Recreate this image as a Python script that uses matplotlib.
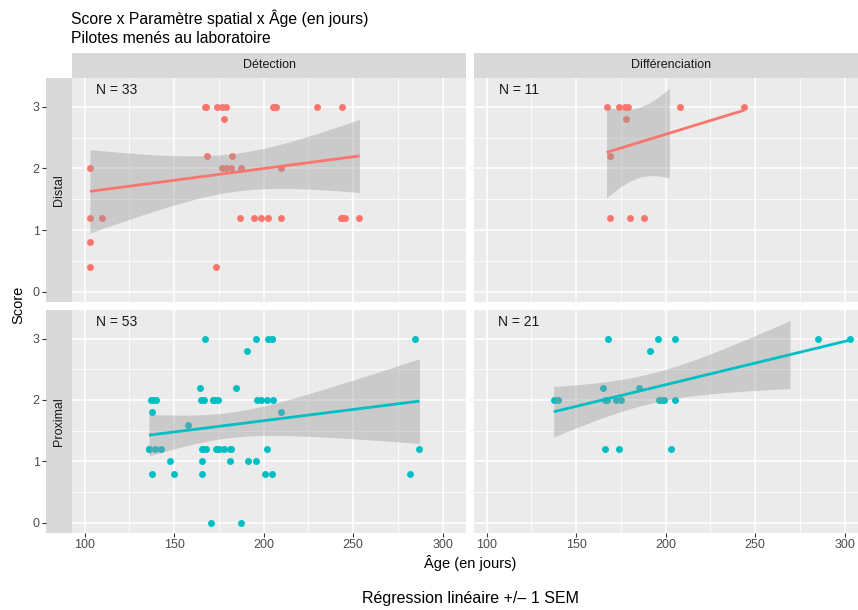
import matplotlib.pyplot as plt
import numpy as np
from math import lgamma, pi, sqrt, exp

plt.rcParams['font.family'] = ['Liberation Sans', 'DejaVu Sans']

RED = '#F8766D'
TEAL = '#00BFC4'

# Distal - Détection
age_dist_det = [167, 168, 174, 177, 179, 205, 206, 207, 230, 244,
                178,
                168.5, 182.5,
                103, 176.5, 179, 182, 187.5, 209.5,
                103, 110, 187, 194.5, 198.5, 202.5, 209.5, 243, 244, 245.5, 253.5,
                103,
                103, 173.5]
score_dist_det = [3, 3, 3, 3, 3, 3, 3, 3, 3, 3,
                  2.8,
                  2.2, 2.2,
                  2, 2, 2, 2, 2, 2,
                  1.2, 1.2, 1.2, 1.2, 1.2, 1.2, 1.2, 1.2, 1.2, 1.2, 1.2,
                  0.8,
                  0.4, 0.4]

# Distal - Différenciation
age_dist_dif = [167, 174, 177.5, 179, 208, 244,
                178,
                169,
                169, 180, 188]
score_dist_dif = [3, 3, 3, 3, 3, 3,
                  2.8,
                  2.2,
                  1.2, 1.2, 1.2]

# Proximal - Détection
age_prox_det = [167.5, 195.5, 202.5, 204.5, 204.5, 284.5,
                190.5,
                164.5, 184.5,
                137, 138.5, 140, 165, 166.5, 172, 172, 173, 174.5, 196.5, 198.5, 202, 205,
                137.5, 209.5,
                157.5,
                136, 136, 139.5, 142.5, 165.5, 166, 168, 173.5, 174, 175, 178, 181, 182, 202, 287,
                147.5, 165.5, 181, 191.5, 195.5,
                137.5, 150, 165.5, 200.5, 204.5, 281.5,
                170.5, 187.5]
score_prox_det = [3, 3, 3, 3, 3, 3,
                  2.8,
                  2.2, 2.2,
                  2, 2, 2, 2, 2, 2, 2, 2, 2, 2, 2, 2, 2,
                  1.8, 1.8,
                  1.6,
                  1.2, 1.2, 1.2, 1.2, 1.2, 1.2, 1.2, 1.2, 1.2, 1.2, 1.2, 1.2, 1.2, 1.2, 1.2,
                  1, 1, 1, 1, 1,
                  0.8, 0.8, 0.8, 0.8, 0.8, 0.8,
                  0, 0]

# Proximal - Différenciation
age_prox_dif = [168, 196, 205, 285, 303,
                191,
                165, 185,
                137.5, 140, 166, 167, 172.5, 175, 196.5, 198, 199, 205,
                166, 174, 203]
score_prox_dif = [3, 3, 3, 3, 3,
                  2.8,
                  2.2, 2.2,
                  2, 2, 2, 2, 2, 2, 2, 2, 2, 2,
                  1.2, 1.2, 1.2]

rows = ['Distal', 'Proximal']
cols = ['Détection', 'Différenciation']
panels = {
    ('Distal', 'Détection'): (age_dist_det, score_dist_det),
    ('Distal', 'Différenciation'): (age_dist_dif, score_dist_dif),
    ('Proximal', 'Détection'): (age_prox_det, score_prox_det),
    ('Proximal', 'Différenciation'): (age_prox_dif, score_prox_dif),
}
row_colors = {'Distal': RED, 'Proximal': TEAL}
score_max = 3.3
x_breaks = [100, 150, 200, 250, 300]


def t_quantile(p, df):
    # quantile de Student par intégration numérique (pas de scipy)
    t = np.linspace(0, 30, 30001)
    c = exp(lgamma((df + 1) / 2) - lgamma(df / 2)) / sqrt(df * pi)
    pdf = c * (1 + t ** 2 / df) ** (-(df + 1) / 2)
    cdf = 0.5 + np.concatenate([[0], np.cumsum((pdf[1:] + pdf[:-1]) / 2 * np.diff(t))])
    return np.interp(p, cdf, t)


def fit_lm(x, y, level=0.95):
    x = np.asarray(x, float)
    y = np.asarray(y, float)
    n = len(x)
    b, a = np.polyfit(x, y, 1)
    res = y - (a + b * x)
    s = np.sqrt((res ** 2).sum() / (n - 2))
    xs = np.linspace(x.min(), x.max(), 80)
    fit = a + b * xs
    se = s * np.sqrt(1 / n + (xs - x.mean()) ** 2 / ((x - x.mean()) ** 2).sum())
    return xs, fit, se * t_quantile((1 + level) / 2, n - 2)


W, H = 858, 610
fig = plt.figure(figsize=(W / 100, H / 100), dpi=100)


def px(x0, y0, x1, y1):
    return [x0 / W, 1 - y1 / H, (x1 - x0) / W, (y1 - y0) / H]


col_x = [(72, 466), (474, 868)]
row_y = [(78, 302), (310, 533)]

all_ages = np.concatenate([np.asarray(v[0], float) for v in panels.values()])
xpad = 0.05 * (all_ages.max() - all_ages.min())
xlim = (all_ages.min() - xpad, all_ages.max() + xpad)
ylim = (-0.05 * score_max, 1.05 * score_max)

tick_kw = dict(length=2.6, width=0.8, color='#333333', labelcolor='#4D4D4D',
               labelsize=9, pad=2)

for i, row in enumerate(rows):
    y0, y1 = row_y[i]
    # bande gauche avec l'axe y
    sax = fig.add_axes(px(46, y0, 72, y1))
    sax.set_facecolor('#D9D9D9')
    sax.set_ylim(ylim)
    sax.set_yticks([0, 1, 2, 3])
    sax.set_xticks([])
    for sp in sax.spines.values():
        sp.set_visible(False)
    sax.tick_params(axis='y', **tick_kw)
    sax.text(0.5, 0.5, row, rotation=90, ha='center', va='center',
             transform=sax.transAxes, fontsize=9, color='#1A1A1A')

    for j, col in enumerate(cols):
        x0, x1 = col_x[j]
        ax = fig.add_axes(px(x0, y0, x1, y1))
        ax.set_facecolor('#EBEBEB')
        for sp in ax.spines.values():
            sp.set_visible(False)
        ax.set_xlim(xlim)
        ax.set_ylim(ylim)
        ax.set_xticks(x_breaks)
        ax.set_xticks([125, 175, 225, 275], minor=True)
        ax.set_yticks([0, 1, 2, 3])
        ax.set_yticks([0.5, 1.5, 2.5], minor=True)
        ax.grid(which='major', color='white', lw=1.1)
        ax.grid(which='minor', color='white', lw=0.55)
        ax.set_axisbelow(True)
        ax.tick_params(which='minor', length=0)
        ax.tick_params(axis='y', length=0, labelleft=False)
        if i == len(rows) - 1:
            ax.tick_params(axis='x', **tick_kw)
        else:
            ax.tick_params(axis='x', length=0, labelbottom=False)

        ages, scores = panels[(row, col)]
        color = row_colors[row]
        ax.scatter(ages, scores, s=25, color=color, linewidths=0, zorder=2)
        xs, fit, ci = fit_lm(ages, scores)
        # comme ggplot : la bande disparaît hors des limites de l'axe y
        ok = (fit + ci <= score_max) & (fit - ci >= 0)
        ax.fill_between(xs[ok], (fit - ci)[ok], (fit + ci)[ok],
                        color='#999999', alpha=0.4, lw=0, zorder=3)
        ax.plot(xs, fit, color=color, lw=2, zorder=4, solid_capstyle='butt')
        ax.text(118, 3.27, f'N = {len(ages)}', ha='center', va='center',
                fontsize=10, color='#1A1A1A', zorder=5)

        if i == 0:
            tax = fig.add_axes(px(x0, 53, x1, 78))
            tax.set_facecolor('#D9D9D9')
            tax.set_xticks([])
            tax.set_yticks([])
            for sp in tax.spines.values():
                sp.set_visible(False)
            tax.text(0.5, 0.5, col, ha='center', va='center', transform=tax.transAxes,
                     fontsize=9, color='#1A1A1A')

fig.text(71 / W, 1 - 24 / H, 'Score x Paramètre spatial x Âge (en jours)',
         ha='left', va='baseline', fontsize=11.3, color='black')
fig.text(71 / W, 1 - 42.7 / H, 'Pilotes menés au laboratoire',
         ha='left', va='baseline', fontsize=11.3, color='black')
fig.text(18 / W, 1 - 305 / H, 'Score', rotation=90, ha='center', va='center',
         fontsize=10.5, color='black')
fig.text(470 / W, 1 - 563 / H, 'Âge (en jours)', ha='center', va='center',
         fontsize=10.5, color='black')
fig.text(471 / W, 1 - 598 / H, 'Régression linéaire +/– 1 SEM', ha='center',
         va='center', fontsize=11.5, color='black')

fig.savefig('out.png', dpi=100)
